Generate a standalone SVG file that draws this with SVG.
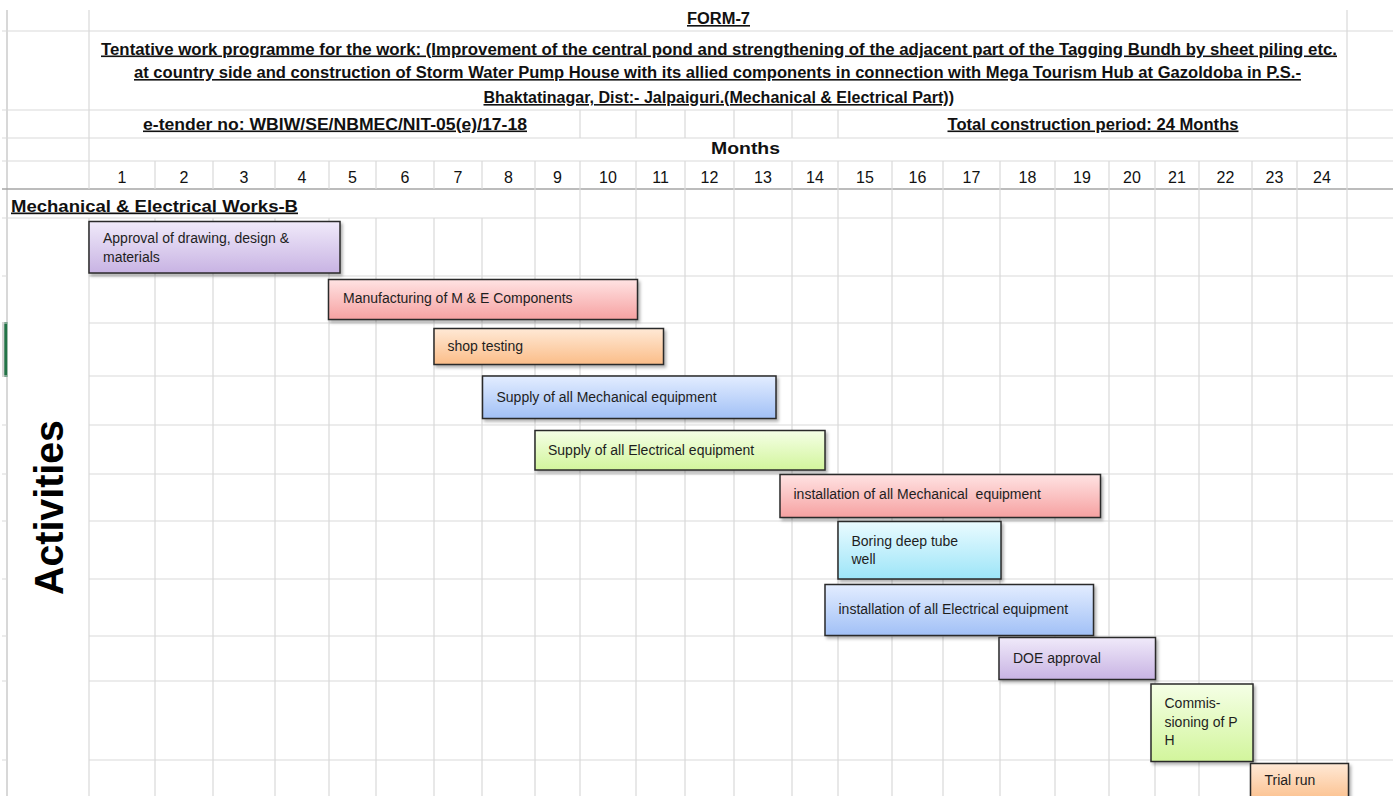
<svg xmlns="http://www.w3.org/2000/svg" width="1393" height="796" viewBox="0 0 1393 796">
<style>
.g{stroke:#d9d9d9;stroke-width:1.2;fill:none}
.gd{stroke:#a6a6a6;stroke-width:1.6;fill:none}
.gb{stroke:#c8c8c8;stroke-width:1.4;fill:none}
.hd{font-family:"Liberation Sans",Arial,sans-serif;font-weight:bold;font-size:16px;fill:#111;text-decoration:underline}
.num{font-family:"Liberation Sans",Arial,sans-serif;font-size:16px;fill:#111;text-anchor:middle}
.bar{stroke:#2a2a2a;stroke-width:1.5}
.bt{font-family:"Liberation Sans",Arial,sans-serif;font-size:14px;fill:#1e1e1e}
</style>
<defs>
<linearGradient id="gPurple" x1="0" y1="0" x2="0" y2="1"><stop offset="0" stop-color="#f0eafa"/><stop offset="1" stop-color="#c8b3e3"/></linearGradient>
<linearGradient id="gPink" x1="0" y1="0" x2="0" y2="1"><stop offset="0" stop-color="#ffe3e3"/><stop offset="1" stop-color="#f6a1a1"/></linearGradient>
<linearGradient id="gOrange" x1="0" y1="0" x2="0" y2="1"><stop offset="0" stop-color="#ffe9d6"/><stop offset="1" stop-color="#fbbd88"/></linearGradient>
<linearGradient id="gBlue" x1="0" y1="0" x2="0" y2="1"><stop offset="0" stop-color="#e3edff"/><stop offset="1" stop-color="#a1c0f6"/></linearGradient>
<linearGradient id="gGreen" x1="0" y1="0" x2="0" y2="1"><stop offset="0" stop-color="#f5ffe6"/><stop offset="1" stop-color="#d2f59c"/></linearGradient>
<linearGradient id="gCyan" x1="0" y1="0" x2="0" y2="1"><stop offset="0" stop-color="#eafbff"/><stop offset="1" stop-color="#9de5f8"/></linearGradient>
<filter id="sh" x="-5%" y="-10%" width="115%" height="130%"><feDropShadow dx="2" dy="2.5" stdDeviation="1.5" flood-color="#000" flood-opacity="0.3"/></filter>
</defs>
<rect x="0" y="0" width="1393" height="796" fill="#ffffff"/>
<g id="grid">
<!-- left border and excel marker -->
<line class="gb" x1="7" y1="10" x2="7" y2="796"/>
<rect x="2" y="322" width="3" height="55" fill="#d2d2d2"/>
<rect x="4.3" y="322" width="3" height="55" fill="#217346"/>
<!-- header horizontal lines -->
<line class="g" x1="2" y1="31" x2="1393" y2="31"/>
<line class="g" x1="2" y1="110" x2="1393" y2="110"/>
<line class="g" x1="2" y1="138" x2="1393" y2="138"/>
<line class="g" x1="2" y1="161" x2="1393" y2="161"/>
<line class="gd" x1="2" y1="189" x2="1393" y2="189"/>
<line class="g" x1="2" y1="218" x2="1393" y2="218"/>
<!-- body rows -->
<path class="g" d="M89 276H1393M89 323H1393M89 376H1393M89 425H1393M89 474H1393M89 521H1393M89 579H1393M89 636H1393M89 681H1393M89 760H1393"/>
<path class="g" d="M2 276H7M2 323H7M2 376H7M2 425H7M2 474H7M2 521H7M2 579H7M2 636H7M2 681H7M2 760H7"/>
<!-- verticals -->
<path class="g" d="M89 10V189M89 218V796M1347 10V796"/>
<path class="g" d="M155 161V189M155 218V796M213 161V189M213 218V796M275 161V189M275 218V796M329 161V189M329 218V796M376 161V189M376 218V796M434 161V189M434 218V796M482 161V189M482 218V796"/>
<path class="g" d="M535 161V796M580 110V138M580 161V796M636 110V138M636 161V796M685 110V138M685 161V796M734 110V138M734 161V796M792 110V138M792 161V796M838 110V138M838 161V796M892 161V796M943 161V796M1000 161V796M1055 161V796M1109 161V796M1155 161V796M1199 161V796M1252 161V796M1297 161V796"/>
</g>
<g id="header">
<text class="hd" x="687" y="24" textLength="63" lengthAdjust="spacingAndGlyphs">FORM-7</text>
<text class="hd" x="101" y="54.5" textLength="1236" lengthAdjust="spacingAndGlyphs">Tentative work programme for the work: (Improvement of the central pond and strengthening of the adjacent part of the Tagging Bundh by sheet piling etc.</text>
<text class="hd" x="134" y="78" textLength="1167" lengthAdjust="spacingAndGlyphs">at country side and construction of Storm Water Pump House with its allied components in connection with Mega Tourism Hub at Gazoldoba in P.S.-</text>
<text class="hd" x="483.5" y="103" textLength="470.5" lengthAdjust="spacingAndGlyphs">Bhaktatinagar, Dist:- Jalpaiguri.(Mechanical &amp; Electrical Part))</text>
<text class="hd" x="143" y="129.5" textLength="384" lengthAdjust="spacingAndGlyphs">e-tender no: WBIW/SE/NBMEC/NIT-05(e)/17-18</text>
<text class="hd" x="947.5" y="129.5" textLength="291" lengthAdjust="spacingAndGlyphs">Total construction period: 24 Months</text>
<text x="711" y="154" font-family="Liberation Sans, Arial, sans-serif" font-weight="bold" font-size="17" fill="#111" textLength="69" lengthAdjust="spacingAndGlyphs">Months</text>
<g id="months">
<text class="num" x="122" y="183">1</text>
<text class="num" x="184" y="183">2</text>
<text class="num" x="244" y="183">3</text>
<text class="num" x="302" y="183">4</text>
<text class="num" x="352.5" y="183">5</text>
<text class="num" x="405" y="183">6</text>
<text class="num" x="458" y="183">7</text>
<text class="num" x="508.5" y="183">8</text>
<text class="num" x="557.5" y="183">9</text>
<text class="num" x="608" y="183">10</text>
<text class="num" x="660.5" y="183">11</text>
<text class="num" x="709.5" y="183">12</text>
<text class="num" x="763" y="183">13</text>
<text class="num" x="815" y="183">14</text>
<text class="num" x="865" y="183">15</text>
<text class="num" x="917.5" y="183">16</text>
<text class="num" x="971.5" y="183">17</text>
<text class="num" x="1027.5" y="183">18</text>
<text class="num" x="1082" y="183">19</text>
<text class="num" x="1132" y="183">20</text>
<text class="num" x="1177" y="183">21</text>
<text class="num" x="1225.5" y="183">22</text>
<text class="num" x="1274.5" y="183">23</text>
<text class="num" x="1322" y="183">24</text>
</g>
<text x="11" y="211.5" font-family="Liberation Sans, Arial, sans-serif" font-weight="bold" font-size="17" fill="#111" text-decoration="underline" textLength="287" lengthAdjust="spacingAndGlyphs">Mechanical &amp; Electrical Works-B</text>
<text transform="translate(62.5,595) rotate(-90)" font-family="Liberation Sans, Arial, sans-serif" font-weight="bold" font-size="40" fill="#000" textLength="175" lengthAdjust="spacingAndGlyphs">Activities</text>
</g>
<g id="connectors"></g>
<g id="bar-approval">
<rect class="bar" x="89" y="221.5" width="251" height="51.5" fill="url(#gPurple)" filter="url(#sh)"/>
<text class="bt" x="103" y="243">Approval of drawing, design &amp;</text>
<text class="bt" x="103" y="261.5">materials</text>
</g>
<g id="bar-manufacturing">
<rect class="bar" x="328.5" y="279.5" width="309" height="40" fill="url(#gPink)" filter="url(#sh)"/>
<text class="bt" x="343" y="303">Manufacturing of M &amp; E Components</text>
</g>
<g id="bar-shop-testing">
<rect class="bar" x="434" y="328.5" width="229.5" height="36" fill="url(#gOrange)" filter="url(#sh)"/>
<text class="bt" x="447.5" y="350.5">shop testing</text>
</g>
<g id="bar-supply-mech">
<rect class="bar" x="482.5" y="376" width="293.5" height="42.5" fill="url(#gBlue)" filter="url(#sh)"/>
<text class="bt" x="496.5" y="401.5">Supply of all Mechanical equipment</text>
</g>
<g id="bar-supply-elec">
<rect class="bar" x="535" y="430.5" width="290" height="39.5" fill="url(#gGreen)" filter="url(#sh)"/>
<text class="bt" x="548" y="455">Supply of all Electrical equipment</text>
</g>
<g id="bar-install-mech">
<rect class="bar" x="780" y="474.5" width="320.5" height="43" fill="url(#gPink)" filter="url(#sh)"/>
<text class="bt" x="793.5" y="499" xml:space="preserve">installation of all Mechanical  equipment</text>
</g>
<g id="bar-boring">
<rect class="bar" x="838" y="521.5" width="163" height="57.5" fill="url(#gCyan)" filter="url(#sh)"/>
<text class="bt" x="851.5" y="545.5">Boring deep tube</text>
<text class="bt" x="851.5" y="564">well</text>
</g>
<g id="bar-install-elec">
<rect class="bar" x="825" y="584.5" width="268.5" height="51" fill="url(#gBlue)" filter="url(#sh)"/>
<text class="bt" x="838.5" y="613.5">installation of all Electrical equipment</text>
</g>
<g id="bar-doe">
<rect class="bar" x="999" y="637.5" width="156.5" height="42" fill="url(#gPurple)" filter="url(#sh)"/>
<text class="bt" x="1013" y="662.5">DOE approval</text>
</g>
<g id="bar-commissioning">
<rect class="bar" x="1151" y="684" width="102" height="77.5" fill="url(#gGreen)" filter="url(#sh)"/>
<text class="bt" x="1164.5" y="708">Commis-</text>
<text class="bt" x="1164.5" y="726.5">sioning of P</text>
<text class="bt" x="1164.5" y="745">H</text>
</g>
<g id="bar-trial-run">
<rect class="bar" x="1250.5" y="763.5" width="98" height="40" fill="url(#gOrange)" filter="url(#sh)"/>
<text class="bt" x="1264.5" y="785">Trial run</text>
</g>
</svg>
